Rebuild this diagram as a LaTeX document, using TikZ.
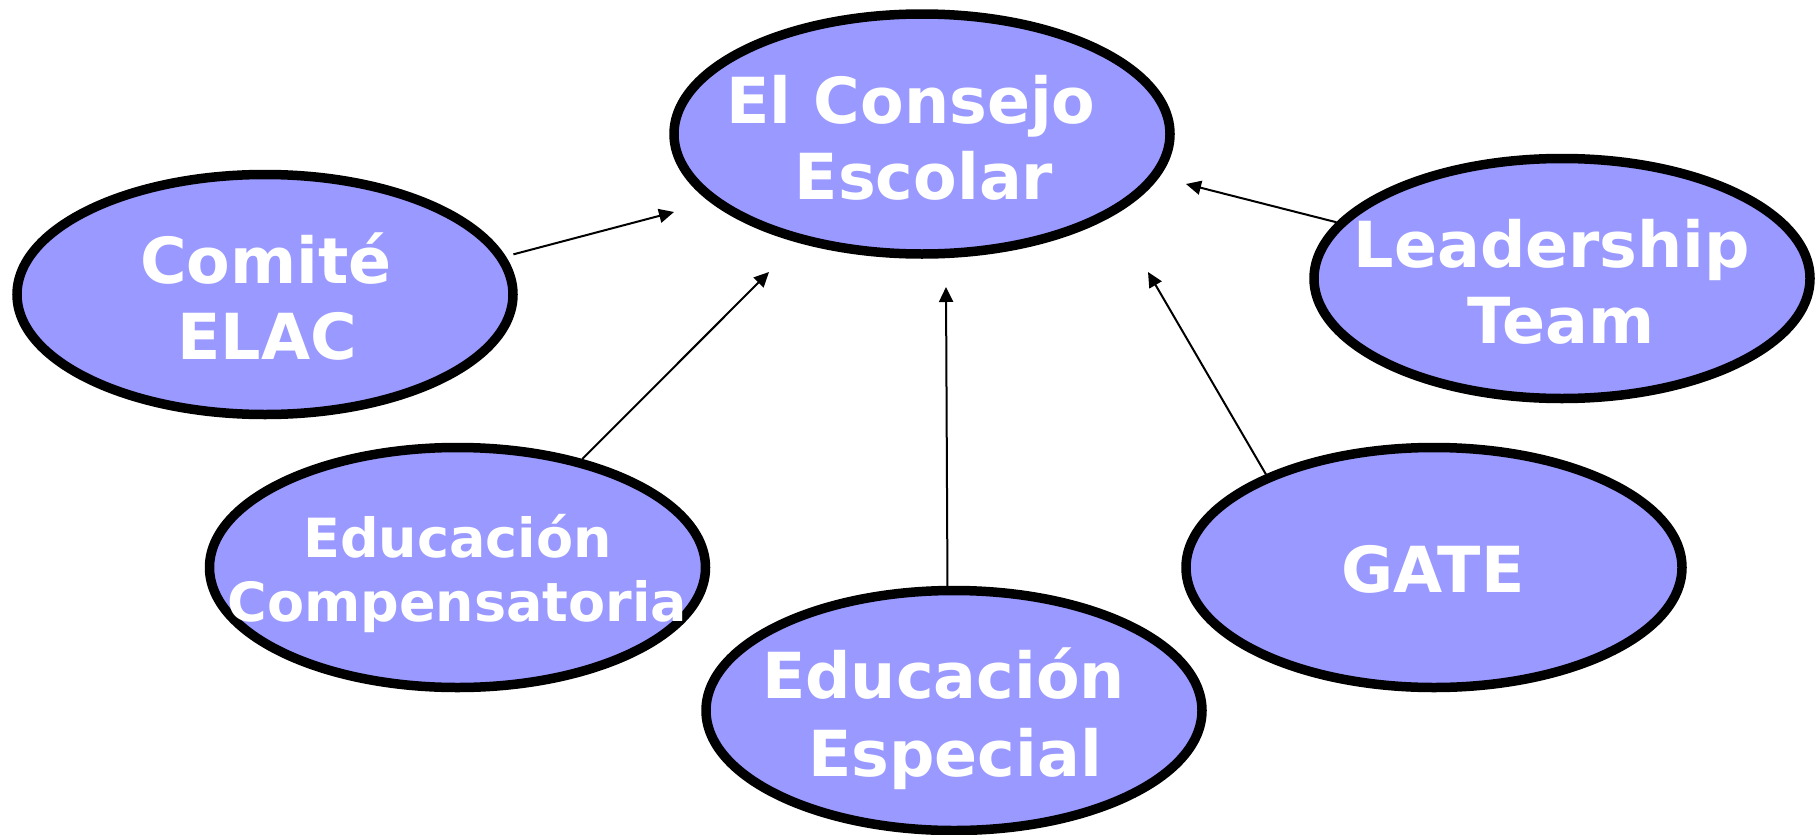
\documentclass[tikz,border=0pt]{standalone}
\usepackage{fontspec}
\setmainfont{DejaVu Sans}
\usetikzlibrary{arrows.meta,shapes.geometric}
\definecolor{blobfill}{HTML}{9999FF}
\begin{document}
\begin{tikzpicture}[x=1pt,y=-1pt,
  blob/.style={ellipse,draw=black,line width=9.5pt,fill=blobfill,minimum width=496pt,minimum height=240pt,inner sep=0pt},
  lbl/.style={anchor=base,text=white,font=\fontsize{63.5}{76}\selectfont\bfseries,inner sep=0pt},
  lblsmall/.style={lbl,font=\fontsize{54}{64}\selectfont\bfseries},
  conn/.style={line width=2pt,-{Triangle[length=15pt,width=14pt]}}]
\useasboundingbox (0,0) rectangle (1816,835);
% ellipses
\node[blob] (consejo) at (922,134) {};
\node[blob] (elac) at (265,294.5) {};
\node[blob] (leader) at (1562,278.5) {};
\node[blob] (comp) at (457.5,567.5) {};
\node[blob] (gate) at (1434,567.5) {};
\node[blob] (esp) at (954,710.5) {};
% texts
\node[lbl] (consejo-a) at ([xshift=-11pt,yshift=11pt]consejo.center) {El Consejo};
\node[lbl] (consejo-b) at ([xshift=2pt,yshift=-65pt]consejo.center) {Escolar};
\node[lbl] (elac-a) at ([xshift=1pt,yshift=11.5pt]elac.center) {Comité};
\node[lbl] (elac-b) at ([xshift=2pt,yshift=-64.5pt]elac.center) {ELAC};
\node[lbl] (leader-a) at ([xshift=-10pt,yshift=11.5pt]leader.center) {Leadership};
\node[lbl] (leader-b) at ([xshift=-1pt,yshift=-64.5pt]leader.center) {Team};
\node[lblsmall] (comp-a) at ([yshift=10.5pt]comp.center) {Educación};
\node[lblsmall] (comp-b) at ([yshift=-53.5pt]comp.center) {Compensatoria};
\node[lbl] (gate-a) at ([xshift=-1pt,yshift=-25pt]gate.center) {GATE};
\node[lbl] (esp-a) at ([xshift=-10.5pt,yshift=12pt]esp.center) {Educación};
\node[lbl] (esp-b) at ([xshift=1pt,yshift=-65.5pt]esp.center) {Especial};
% arrow tips
\coordinate (t1) at (674,212);
\coordinate (t2) at (769,272);
\coordinate (t3) at (946,287);
\coordinate (t4) at (1148,272);
\coordinate (t5) at (1186,184);
% connectors
\draw[conn,shorten <=8pt] (elac.9) -- (t1);
\draw[conn] (comp.41.4) -- (t2);
\draw[conn] (esp.93.7) -- (t3);
\draw[conn] (gate.151.6) -- (t4);
\draw[conn] (leader.166.4) -- (t5);
\end{tikzpicture}
\end{document}
